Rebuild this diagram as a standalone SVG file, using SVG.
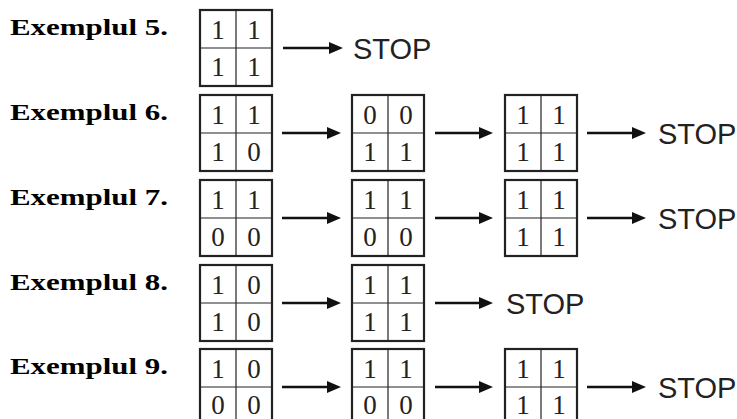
<svg xmlns="http://www.w3.org/2000/svg" xmlns:xlink="http://www.w3.org/1999/xlink" width="737" height="419" viewBox="0 0 737 419">
<style>
.lbl{font-family:"Liberation Serif","DejaVu Serif",serif;font-weight:bold;font-size:23px;fill:#000}
.dg{font-family:"Liberation Serif","DejaVu Serif",serif;font-size:27px;fill:#222;text-anchor:middle}
.stop{font-family:"Liberation Sans",Arial,sans-serif;font-size:29px;fill:#222}
.outer{fill:#fff;stroke:#222;stroke-width:2.2}
.inner{stroke:#222;stroke-width:1.2}
.arr{stroke:#111;stroke-width:2.6;fill:none}
</style>
<defs>
<marker id="ah" markerUnits="userSpaceOnUse" markerWidth="14" markerHeight="12" refX="4" refY="6" orient="auto">
<path d="M0,0 L14,6 L0,12 z" fill="#111"/>
</marker>
<g id="frame">
<rect class="outer" x="0" y="0" width="72" height="76"/>
<line class="inner" x1="36" y1="0" x2="36" y2="76"/>
<line class="inner" x1="0" y1="38" x2="72" y2="38"/>
</g>
</defs>

<g id="labels">
<text class="lbl" x="10" y="35" textLength="158" lengthAdjust="spacingAndGlyphs">Exemplul 5.</text>
<text class="lbl" x="10" y="120" textLength="158" lengthAdjust="spacingAndGlyphs">Exemplul 6.</text>
<text class="lbl" x="10" y="205" textLength="158" lengthAdjust="spacingAndGlyphs">Exemplul 7.</text>
<text class="lbl" x="10" y="290" textLength="158" lengthAdjust="spacingAndGlyphs">Exemplul 8.</text>
<text class="lbl" x="10" y="374" textLength="158" lengthAdjust="spacingAndGlyphs">Exemplul 9.</text>
</g>

<!-- Row 5 -->
<g id="ex5-m1" transform="translate(200,10)"><use xlink:href="#frame" href="#frame"/>
<text class="dg" x="18" y="29">1</text><text class="dg" x="54" y="29">1</text>
<text class="dg" x="18" y="66">1</text><text class="dg" x="54" y="66">1</text></g>
<g id="ex5-stop"><text class="stop" x="353" y="58.5">STOP</text></g>

<!-- Row 6 -->
<g id="ex6-m1" transform="translate(200,95)"><use xlink:href="#frame" href="#frame"/>
<text class="dg" x="18" y="29">1</text><text class="dg" x="54" y="29">1</text>
<text class="dg" x="18" y="66">1</text><text class="dg" x="54" y="66">0</text></g>
<g id="ex6-m2" transform="translate(352,95)"><use xlink:href="#frame" href="#frame"/>
<text class="dg" x="18" y="29">0</text><text class="dg" x="54" y="29">0</text>
<text class="dg" x="18" y="66">1</text><text class="dg" x="54" y="66">1</text></g>
<g id="ex6-m3" transform="translate(505,95)"><use xlink:href="#frame" href="#frame"/>
<text class="dg" x="18" y="29">1</text><text class="dg" x="54" y="29">1</text>
<text class="dg" x="18" y="66">1</text><text class="dg" x="54" y="66">1</text></g>
<g id="ex6-stop"><text class="stop" x="658" y="143.5">STOP</text></g>

<!-- Row 7 -->
<g id="ex7-m1" transform="translate(200,180)"><use xlink:href="#frame" href="#frame"/>
<text class="dg" x="18" y="29">1</text><text class="dg" x="54" y="29">1</text>
<text class="dg" x="18" y="66">0</text><text class="dg" x="54" y="66">0</text></g>
<g id="ex7-m2" transform="translate(352,180)"><use xlink:href="#frame" href="#frame"/>
<text class="dg" x="18" y="29">1</text><text class="dg" x="54" y="29">1</text>
<text class="dg" x="18" y="66">0</text><text class="dg" x="54" y="66">0</text></g>
<g id="ex7-m3" transform="translate(505,180)"><use xlink:href="#frame" href="#frame"/>
<text class="dg" x="18" y="29">1</text><text class="dg" x="54" y="29">1</text>
<text class="dg" x="18" y="66">1</text><text class="dg" x="54" y="66">1</text></g>
<g id="ex7-stop"><text class="stop" x="658" y="228.5">STOP</text></g>

<!-- Row 8 -->
<g id="ex8-m1" transform="translate(200,265)"><use xlink:href="#frame" href="#frame"/>
<text class="dg" x="18" y="29">1</text><text class="dg" x="54" y="29">0</text>
<text class="dg" x="18" y="66">1</text><text class="dg" x="54" y="66">0</text></g>
<g id="ex8-m2" transform="translate(352,265)"><use xlink:href="#frame" href="#frame"/>
<text class="dg" x="18" y="29">1</text><text class="dg" x="54" y="29">1</text>
<text class="dg" x="18" y="66">1</text><text class="dg" x="54" y="66">1</text></g>
<g id="ex8-stop"><text class="stop" x="506" y="313.5">STOP</text></g>

<!-- Row 9 -->
<g id="ex9-m1" transform="translate(200,349)"><use xlink:href="#frame" href="#frame"/>
<text class="dg" x="18" y="29">1</text><text class="dg" x="54" y="29">0</text>
<text class="dg" x="18" y="65">0</text><text class="dg" x="54" y="65">0</text></g>
<g id="ex9-m2" transform="translate(352,349)"><use xlink:href="#frame" href="#frame"/>
<text class="dg" x="18" y="29">1</text><text class="dg" x="54" y="29">1</text>
<text class="dg" x="18" y="65">0</text><text class="dg" x="54" y="65">0</text></g>
<g id="ex9-m3" transform="translate(505,349)"><use xlink:href="#frame" href="#frame"/>
<text class="dg" x="18" y="29">1</text><text class="dg" x="54" y="29">1</text>
<text class="dg" x="18" y="65">1</text><text class="dg" x="54" y="65">1</text></g>
<g id="ex9-stop"><text class="stop" x="658" y="397.5">STOP</text></g>

<g id="connectors">
<line class="arr" x1="283" y1="48" x2="333" y2="48" marker-end="url(#ah)"/>

<line class="arr" x1="282" y1="133" x2="331" y2="133" marker-end="url(#ah)"/>
<line class="arr" x1="435" y1="133" x2="483" y2="133" marker-end="url(#ah)"/>
<line class="arr" x1="587" y1="133" x2="636" y2="133" marker-end="url(#ah)"/>

<line class="arr" x1="282" y1="218" x2="331" y2="218" marker-end="url(#ah)"/>
<line class="arr" x1="435" y1="218" x2="483" y2="218" marker-end="url(#ah)"/>
<line class="arr" x1="587" y1="218" x2="636" y2="218" marker-end="url(#ah)"/>

<line class="arr" x1="282" y1="303" x2="331" y2="303" marker-end="url(#ah)"/>
<line class="arr" x1="435" y1="303" x2="483" y2="303" marker-end="url(#ah)"/>

<line class="arr" x1="282" y1="387" x2="331" y2="387" marker-end="url(#ah)"/>
<line class="arr" x1="435" y1="387" x2="483" y2="387" marker-end="url(#ah)"/>
<line class="arr" x1="587" y1="387" x2="636" y2="387" marker-end="url(#ah)"/>
</g>
</svg>
